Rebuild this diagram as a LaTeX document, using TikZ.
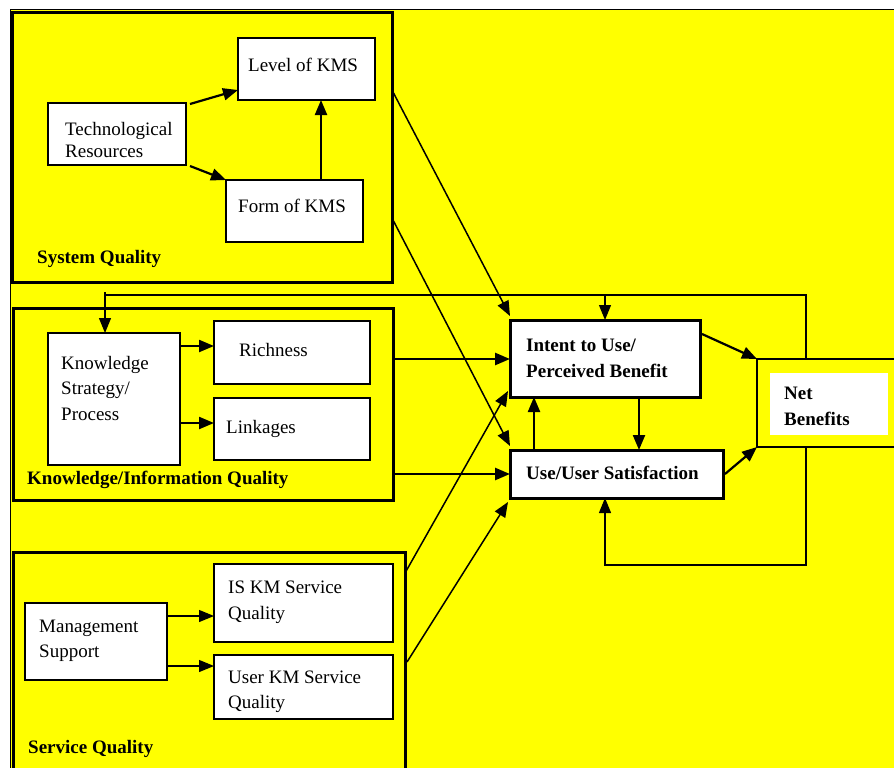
\documentclass[tikz,border=0pt]{standalone}
\usepackage{fontspec}
\setmainfont{Liberation Serif}
\usetikzlibrary{arrows.meta,calc,fit}
\definecolor{bgyellow}{RGB}{255,255,0}
\tikzset{
  grp/.style={draw, line width=3pt, inner sep=0pt, outer sep=0pt},
  wbox/.style={draw, fill=white, line width=1.2pt, inner sep=0pt, outer sep=0pt},
  cbox/.style={draw, fill=white, line width=3pt, inner sep=0pt, outer sep=0pt},
  tip/.style={-{Triangle[length=15pt,width=12pt]}},
  arr/.style={tip, line width=2.2pt},
  harr/.style={tip, line width=2.6pt},
  diag/.style={tip, line width=1.5pt},
  fb/.style={line width=1.2pt},
  txt/.style={font=\fontsize{19}{21}\selectfont, inner sep=0pt, anchor=base west},
  btxt/.style={txt, font=\fontsize{19}{21}\selectfont\bfseries},
}
\begin{document}
\begin{tikzpicture}[x=1pt,y=-1pt]
\useasboundingbox (0,0) rectangle (894,768);
% background
\fill[bgyellow] (10,10) rectangle (894,768);
\draw[line width=1pt] (10,768) -- (10,10) -- (894,10);

% group boxes
\node[grp, fit={(12,13) (392,282)}] (sys) {};
\node[grp, fit={(13,308) (393,500)}] (kiq) {};
\node[grp, fit={(13,552) (405,790)}] (svc) {};

% system quality
\node[wbox, fit={(238,38) (375,100)}] (lvl) {};
\node[wbox, fit={(48,103) (186,165)}] (tech) {};
\node[wbox, fit={(226,180) (363,242)}] (form) {};
\node[txt] (tlvl) at (248,72) {Level of KMS};
\node[txt] (ttech1) at (65,135) {Technological};
\node[txt] (ttech2) at (65,157) {Resources};
\node[txt] (tform) at (238,212) {Form of KMS};
\node[btxt] (tsys) at (37,263) {System Quality};

% knowledge quality
\node[wbox, fit={(48,333) (180,465)}] (ksp) {};
\node[wbox, fit={(214,321) (370,384)}] (rich) {};
\node[wbox, fit={(214,398) (370,460)}] (link) {};
\node[txt] (tksp1) at (61,369) {Knowledge};
\node[txt] (tksp2) at (61,394) {Strategy/};
\node[txt] (tksp3) at (61,420) {Process};
\node[txt] (trich) at (239,356) {Richness};
\node[txt] (tlink) at (226,433) {Linkages};
\node[btxt] (tkiq) at (27,484) {Knowledge/Information Quality};

% service quality
\node[wbox, fit={(25,603) (167,680)}] (ms) {};
\node[wbox, fit={(214,564) (393,642)}] (isq) {};
\node[wbox, fit={(214,655) (393,719)}] (uksq) {};
\node[txt] (tms1) at (39,632) {Management};
\node[txt] (tms2) at (39,657) {Support};
\node[txt] (tisq1) at (228,593) {IS KM Service};
\node[txt] (tisq2) at (228,619) {Quality};
\node[txt] (tuk1) at (228,683) {User KM Service};
\node[txt] (tuk2) at (228,708) {Quality};
\node[btxt] (tsvc) at (28,753) {Service Quality};

% central boxes
\node[cbox, fit={(510,320) (700,397)}] (intent) {};
\node[cbox, fit={(510,450) (723,498)}] (use) {};
\node[btxt] (tint1) at (526,351) {Intent to Use/};
\node[btxt] (tint2) at (526,377) {Perceived Benefit};
\node[btxt] (tuse) at (526,479) {Use/User Satisfaction};

% net benefits
\node[draw, line width=2.2pt, inner sep=0pt, outer sep=0pt, fit={(757,359) (910,447)}] (net) {};
\node[fill=white, inner sep=0pt, outer sep=0pt, fit={(770,373) (888,435)}] (netw) {};
\node[btxt] (tnet1) at (784,399) {Net};
\node[btxt] (tnet2) at (784,425) {Benefits};

% arrows in system quality
\draw[arr] ($(tech.north east)+(4,1)$) -- ($(lvl.south west)+(0,-10)$);
\draw[arr] ($(tech.south east)+(4,1)$) -- (form.north west);
\draw[arr] ($(form.north west)+(95,0)$) -- ($(lvl.south west)+(83,0)$);

% arrows in knowledge quality
\coordinate (k1) at ($(ksp.north east)+(0,13)$);
\coordinate (k2) at ($(ksp.north east)+(0,90)$);
\draw[arr] (k1) -- (rich.west |- k1);
\draw[arr] (k2) -- (link.west |- k2);

% arrows in service quality
\coordinate (m1) at ($(ms.north east)+(0,13)$);
\coordinate (m2) at ($(ms.north east)+(0,63)$);
\draw[fb, tip] (m1) -- (isq.west |- m1);
\draw[fb, tip] (m2) -- (uksq.west |- m2);

% diagonals from system quality
\draw[diag] ($(sys.north east)+(1,79)$) -- ($(intent.north west)+(0,-4)$);
\draw[diag] ($(sys.north east)+(1,207)$) -- ($(use.north west)+(0,-4)$);

% knowledge to centre
\coordinate (q1) at ($(kiq.north east)+(0,51)$);
\coordinate (q2) at ($(kiq.north east)+(0,166)$);
\draw[harr] (q1) -- (intent.west |- q1);
\draw[harr] (q2) -- (use.west |- q2);

% service to centre
\coordinate (s1) at ($(svc.north east)+(0,21)$);
\coordinate (s2) at ($(svc.north east)+(2,110)$);
\draw[diag] (s1) -- ($(intent.south west)+(-2,-6)$);
\draw[diag] (s2) -- ($(use.south west)+(-2,4)$);

% between centre boxes
\draw[arr] ($(use.north west)+(24,0)$) -- ($(intent.south west)+(24,0)$);
\draw[arr] ($(intent.south west)+(129,0)$) -- ($(use.north west)+(129,0)$);

% to net benefits
\draw[arr] ($(intent.north east)+(2,14)$) -- (net.north west);
\draw[arr] ($(use.east)+(2,0)$) -- (net.south west);

% feedback loops
\coordinate (fbT) at ($(net.north west)+(49,0)$);
\coordinate (fbB) at ($(net.south west)+(49,0)$);
\coordinate (fbL) at (105,295);
\coordinate (fbU) at (605,565);
\draw[fb] (fbT) |- (fbL);
\draw[fb, tip] ($(fbL)+(0,-3)$) -- (ksp.north -| fbL);
\draw[fb, tip] (intent.north |- fbL) -- (intent.north);
\draw[fb, tip] (fbB) |- (fbU) -- (use.south -| fbU);
\end{tikzpicture}
\end{document}
